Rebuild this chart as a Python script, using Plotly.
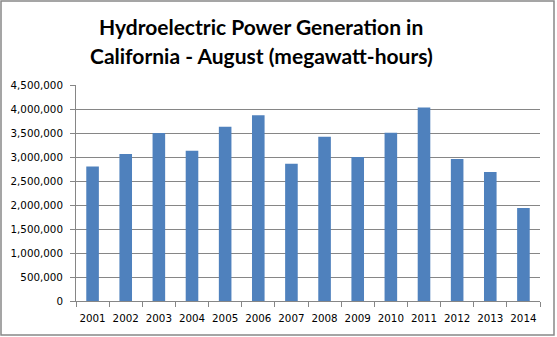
import plotly.graph_objects as go

# August hydroelectric generation in California, megawatt-hours
years = ["2001", "2002", "2003", "2004", "2005", "2006", "2007",
         "2008", "2009", "2010", "2011", "2012", "2013", "2014"]
generation_mwh = [2800000, 3065000, 3500000, 3130000, 3630000, 3870000, 2860000,
                  3420000, 3000000, 3505000, 4030000, 2960000, 2690000, 1940000]
y_ticks = list(range(0, 4500001, 500000))
y_tick_labels = [f"{v:,}" for v in y_ticks]

W, H = 557, 337
L, R, T, B = 76, 17, 85, 36
pw, ph = W - L - R, H - T - B

fig = go.Figure(go.Bar(
    x=years, y=generation_mwh,
    marker=dict(color="#4F81BD", line=dict(width=0)),
))

grid = "#868686"
tick_font = dict(family="DejaVu Sans", size=10.3, color="#000000")
fig.update_layout(
    width=W, height=H,
    margin=dict(l=L, r=R, t=T, b=B),
    paper_bgcolor="white", plot_bgcolor="white",
    bargap=0.62,
    showlegend=False,
    font=dict(family="DejaVu Sans", size=10, color="#000000"),
    xaxis=dict(
        type="category", showgrid=False, showline=True, linecolor=grid, linewidth=1,
        ticks="outside", tickson="boundaries", ticklen=5, tickcolor=grid,
        tickangle=0, ticklabelstandoff=8, tickfont=tick_font,
    ),
    yaxis=dict(
        range=[0, 4500000], tickvals=y_ticks, ticktext=y_tick_labels,
        showgrid=True, gridcolor=grid, gridwidth=1, zeroline=False,
        showline=True, linecolor=grid, linewidth=1,
        ticks="outside", ticklen=5, tickcolor=grid,
        ticklabelstandoff=5, tickfont=tick_font,
    ),
    annotations=[
        dict(text="<b>Hydroelectric Power Generation in</b>", xref="paper", yref="paper",
             x=(261 - L) / pw, y=(H - B - 26) / ph, xanchor="center", yanchor="middle",
             showarrow=False, font=dict(family="Lato", size=21, color="#000000")),
        dict(text="<b>California - August (megawatt-hours)</b>", xref="paper", yref="paper",
             x=(261 - L) / pw, y=(H - B - 55) / ph, xanchor="center", yanchor="middle",
             showarrow=False, font=dict(family="Lato", size=21, color="#000000")),
    ],
    shapes=[
        dict(type="rect", xref="paper", yref="paper",
             x0=(1 - L) / pw, x1=(554 - L) / pw,
             y0=(H - B - 335) / ph, y1=(H - B - 1) / ph,
             line=dict(color="#888888", width=1.5), fillcolor="rgba(0,0,0,0)", layer="above"),
    ],
)

fig.write_html("out.html")
